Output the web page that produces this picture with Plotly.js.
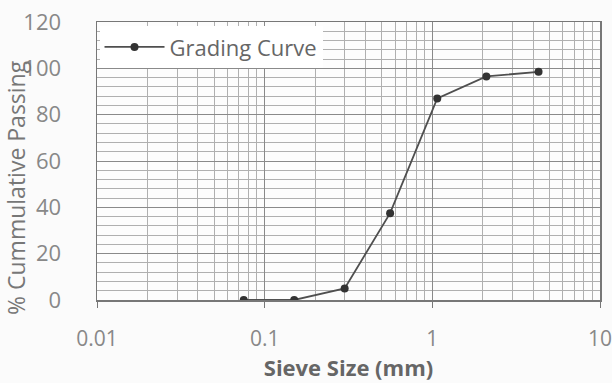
<!DOCTYPE html>
<html>
<head>
<meta charset="utf-8">
<script src="https://cdn.plot.ly/plotly-3.0.1.min.js"></script>
<style>html,body{margin:0;padding:0;background:#fff;}#chart{width:612px;height:383px;}</style>
</head>
<body>
<div id="chart"></div>
<script>
const seriesName = "Grading Curve";
const sieveSize = [0.075, 0.15, 0.3, 0.56, 1.07, 2.1, 4.3];
const percentPassing = [0, 0, 5, 37.5, 87, 96.5, 98.5];
const xTickVals = [0.01, 0.1, 1, 10];
const xTickText = ["0.01", "0.1", "1", "10"];
const yTitle = "% Cummulative Passing";
const xTitle = "Sieve Size (mm)";

const fontFam = "Open Sans, Lato, sans-serif";
const pad = "&nbsp;".repeat(9);

Plotly.newPlot("chart", [{
  x: sieveSize, y: percentPassing, name: seriesName,
  type: "scatter", mode: "lines+markers",
  line: {color: "#4f4f4f", width: 1.8},
  marker: {color: "#333", size: 8, symbol: "circle"}
}], {
  width: 612, height: 383,
  margin: {l: 97, r: 12, t: 22, b: 83},
  paper_bgcolor: "#fbfbfb", plot_bgcolor: "#fdfdfd",
  font: {family: fontFam, color: "#777", size: 22},
  showlegend: true,
  legend: {x: 0.005, y: 0.985, xanchor: "left", yanchor: "top", bgcolor: "#ffffff",
           borderwidth: 0, itemwidth: 60, font: {size: 22, color: "#666"}},
  xaxis: {
    type: "log", range: [-2, 1], tickvals: xTickVals, ticktext: xTickText,
    showgrid: true, gridcolor: "#8a8a8a", gridwidth: 1,
    minor: {showgrid: true, dtick: "D1", gridcolor: "#b0b0b0", gridwidth: 1},
    showline: true, linecolor: "#777", linewidth: 1.5, mirror: true,
    ticks: "outside", ticklen: 6, tickcolor: "#777", ticklabelstandoff: 13,
    ticklabeloverflow: "allow",
    tickfont: {size: 21, color: "#888"},
    title: {text: "<b>" + xTitle + "</b>", font: {size: 22, color: "#666"}, standoff: 4},
    automargin: false, zeroline: false
  },
  yaxis: {
    range: [0, 120], dtick: 20,
    showgrid: true, gridcolor: "#8a8a8a", gridwidth: 1,
    minor: {showgrid: true, dtick: 4, gridcolor: "#b0b0b0", gridwidth: 1},
    showline: true, linecolor: "#777", linewidth: 1.5, mirror: true,
    ticks: "", ticklabelstandoff: 30, tickfont: {size: 22, color: "#888"},
    title: {text: yTitle + pad, font: {size: 23, color: "#777"}, standoff: 0},
    automargin: false, zeroline: false
  }
}, {displayModeBar: false, staticPlot: true});
</script>
</body>
</html>
